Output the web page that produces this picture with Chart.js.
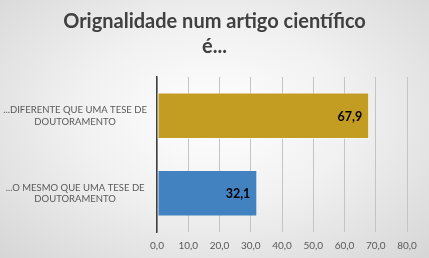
<!DOCTYPE html>
<html>
<head>
<meta charset="utf-8">
<script src="https://cdn.jsdelivr.net/npm/chart.js@4"></script>
<style>
  html, body { margin: 0; padding: 0; }
  body {
    width: 429px; height: 258px; overflow: hidden;
    background: radial-gradient(ellipse at 50% 45%, #ffffff 0%, #f1f1f1 45%, #d6d6d6 100%);
  }
  #wrap { width: 429px; height: 258px; position: relative; }
</style>
</head>
<body>
<div id="wrap"><canvas id="grafico"></canvas></div>
<script>
/* ---- dados ---- */
const CATEGORIAS = [
    ["...DIFERENTE QUE UMA TESE DE", "DOUTORAMENTO"],
    ["...O MESMO QUE UMA TESE DE", "DOUTORAMENTO"]
];
const VALORES = [67.9, 32.1];
const CORES = ["#c39c22", "#4282c0"];
const TITULO = ["Orignalidade num artigo científico", "é..."];
const EIXO_MIN = 0, EIXO_MAX = 80, EIXO_PASSO = 10;

const fmt = v => v.toFixed(1).replace(".", ",");

/* título centrado no canvas inteiro */
const tituloCentro = {
    id: "tituloCentro",
    afterDraw(chart) {
        const ctx = chart.ctx;
        ctx.save();
        ctx.font = "bold 20px Lato, 'Open Sans', sans-serif";
        ctx.fillStyle = "#404040";
        ctx.textAlign = "center";
        ctx.textBaseline = "middle";
        TITULO.forEach((linha, i) => {
            ctx.fillText(linha, chart.width / 2, 22 + i * 25);
        });
        ctx.restore();
    }
};

/* rótulos de valor dentro da barra */
const rotulosValor = {
    id: "rotulosValor",
    afterDatasetsDraw(chart) {
        const ctx = chart.ctx;
        const meta = chart.getDatasetMeta(0);
        ctx.save();
        ctx.font = "bold 12.5px Lato, 'Open Sans', sans-serif";
        ctx.fillStyle = "#000";
        ctx.textAlign = "right";
        ctx.textBaseline = "middle";
        meta.data.forEach((bar, i) => {
            ctx.fillText(fmt(VALORES[i]), bar.x - 7, bar.y + 1);
        });
        ctx.restore();
    }
};

new Chart(document.getElementById("grafico"), {
    type: "bar",
    data: {
        labels: CATEGORIAS,
        datasets: [{
            data: VALORES,
            backgroundColor: CORES,
            borderColor: ["rgba(255,255,255,0.7)", "rgba(255,255,255,0)"],
            borderWidth: 1,
            borderSkipped: false,
            barPercentage: 0.6,
            categoryPercentage: 1.0
        }]
    },
    plugins: [rotulosValor, tituloCentro],
    options: {
        indexAxis: "y",
        responsive: true,
        maintainAspectRatio: false,
        animation: false,
        layout: { padding: { left: 0, right: 22, top: 77, bottom: 0 } },
        plugins: {
            legend: { display: false },
            tooltip: { enabled: false },
            title: { display: false }
        },
        scales: {
            x: {
                min: EIXO_MIN,
                max: EIXO_MAX,
                ticks: {
                    stepSize: EIXO_PASSO,
                    color: "#595959",
                    font: { family: "Lato, 'Open Sans', sans-serif", size: 10 },
                    padding: 8,
                    callback: v => fmt(v)
                },
                grid: { color: "#c4c4c4", lineWidth: 1, drawTicks: false },
                border: { display: false },
                afterFit(s) { s.height = 26; }
            },
            y: {
                ticks: {
                    color: "#595959",
                    font: { family: "Lato, 'Open Sans', sans-serif", size: 9.5 },
                    padding: 10,
                    crossAlign: "center"
                },
                grid: { display: false, drawTicks: false },
                border: { display: true, color: "#404040", width: 1.5 },
                afterFit(s) { s.width = 157; }
            }
        }
    }
});
</script>
</body>
</html>
